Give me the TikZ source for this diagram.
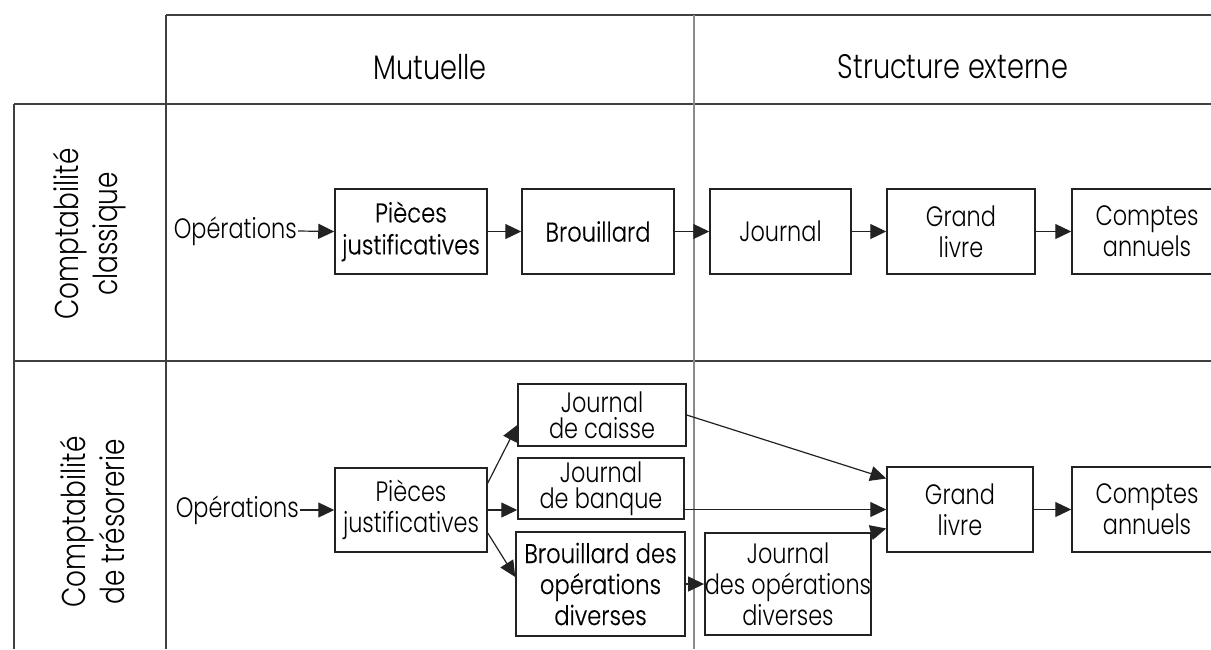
\documentclass[tikz,border=0pt]{standalone}
\usepackage{fontspec}
\setmainfont{Poppins}[UprightFont=* Light, FakeStretch=0.80]
\newfontfamily\darkfont{Poppins}[UprightFont=* Light, FakeStretch=0.84, FakeBold=0.4]
\usetikzlibrary{arrows.meta}
\definecolor{linec}{HTML}{222222}
\definecolor{gridc}{HTML}{404040}
\definecolor{midc}{HTML}{8A8A8A}
\tikzset{
  txt/.style={inner sep=1pt, align=center, font=\fontsize{28}{31}\selectfont},
  box/.style={draw=linec, line width=1.5pt, inner sep=0pt, align=center,
              font=\fontsize{28}{31}\selectfont},
  dbox/.style={box, font=\darkfont\fontsize{27}{32}\selectfont},
  tight/.style={font=\fontsize{28}{26}\selectfont},
  head/.style={inner sep=0pt, font=\fontsize{34}{38}\selectfont},
  side/.style={inner sep=0pt, rotate=90, align=center, font=\fontsize{33}{39}\selectfont},
  arr/.style={draw=linec, line width=1.2pt, -{Triangle[length=16pt,width=15pt]}},
  gridline/.style={draw=gridc, line width=1.5pt},
}
\begin{document}
\begin{tikzpicture}[x=1pt,y=-1pt]
\useasboundingbox (0,0) rectangle (1211,649);
\clip (0,0) rectangle (1211,649);
\fill[white] (0,0) rectangle (1211,649);

% table rules
\draw[gridline] (166,15) -- (1211,15);
\draw[gridline] (14,104) -- (1211,104);
\draw[gridline] (14,361) -- (1211,361);
\draw[gridline] (14,104) -- (14,649);
\draw[gridline] (166,15) -- (166,649);
\draw[draw=midc, line width=1.5pt] (694,15) -- (694,649);

% column and row headings
\node[head] (hM) at (430,67) {Mutuelle};
\node[head] (hS) at (953,67) {Structure externe};
\node[side] (r1) at (90,234) {Comptabilité\\classique};
\node[side] (r2) at (92,522) {Comptabilité\\de trésorerie};

% classical accounting chain
\node[txt, anchor=east] (o1) at (298,231) {Opérations};
\node[dbox, minimum width=152pt, minimum height=85pt] (p1) at (411,231.5) {Pièces\\justificatives};
\node[dbox, minimum width=152pt, minimum height=85pt] (b1) at (598,231.5) {Brouillard};
\node[box, minimum width=141pt, minimum height=85pt] (j1) at (780.5,231.5) {Journal};
\node[box, minimum width=148pt, minimum height=85pt] (g1) at (961,231.5) {Grand\\livre};
\node[box, minimum width=150pt, minimum height=85pt] (c1) at (1147,231.5) {Comptes\\annuels};

\draw[arr] (o1.east) -- (p1.west);
\draw[arr] (p1.east) -- (b1.west);
\draw[arr] (b1.east) -- (j1.west);
\draw[arr] (j1.east) -- (g1.west);
\draw[arr] (g1.east) -- (c1.west);

% cash accounting chain
\node[txt, anchor=east] (o2) at (300,510) {Opérations};
\node[box, minimum width=152pt, minimum height=84pt] (p2) at (411,510) {Pièces\\justificatives};
\node[box, tight, minimum width=168pt, minimum height=62pt] (jc) at (602,415) {Journal\\de caisse};
\node[box, tight, minimum width=166pt, minimum height=61pt] (jb) at (601,488.5) {Journal\\de banque};
\node[dbox, minimum width=169pt, minimum height=104pt, font=\darkfont\fontsize{27}{31}\selectfont] (bod) at (600.5,584) {Brouillard des\\opérations\\diverses};
\node[box, minimum width=162pt, minimum height=102pt] (jod) at (788,584) {Journal\\des opérations\\diverses};
\node[box, minimum width=146pt, minimum height=85pt] (g2) at (960,509.5) {Grand\\livre};
\node[box, minimum width=150pt, minimum height=85pt] (c2) at (1147,509.5) {Comptes\\annuels};

\draw[arr] (o2.east) -- (p2.west);
\draw[arr] ([yshift=27pt]p2.east) -- ([yshift=-10pt]jc.west);
\draw[arr] (p2.east) -- (p2.east -| jb.west);
\draw[arr] ([yshift=-23pt]p2.east) -- ([yshift=7pt]bod.west);
\draw[arr] (jc.east) -- ([yshift=31pt]g2.west);
\draw[arr] (jb.east |- g2.west) -- (g2.west);
\draw[arr] (jod.north east) -- ([yshift=-19pt]g2.west);
\draw[arr] (bod.east) -- (jod.west);
\draw[arr] (g2.east) -- (c2.west);
\end{tikzpicture}
\end{document}
